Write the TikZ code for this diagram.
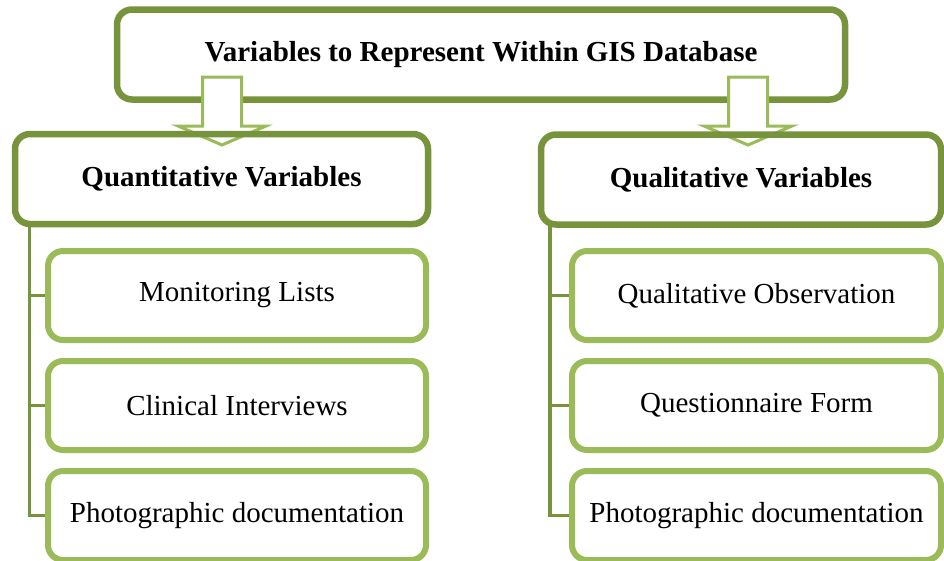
\documentclass[tikz,border=0pt]{standalone}
\usepackage{fontspec}
\setmainfont{Liberation Serif}
\usetikzlibrary{positioning}
\definecolor{olivedark}{HTML}{77933C}
\definecolor{olivelight}{HTML}{9BBB59}

\begin{document}
\begin{tikzpicture}[x=1pt, y=-1pt,
		font=\fontsize{29}{34}\selectfont,
		head/.style={draw=olivedark, line width=6.5pt, rounded corners=15pt, outer sep=0pt, minimum height=90pt},
		bold/.style={font=\fontsize{29}{34}\selectfont\bfseries},
		item/.style={draw=olivelight, line width=6pt, rounded corners=15pt, fill=white, outer sep=0pt, minimum height=89pt},
		link/.style={draw=olivedark, line width=3.5pt, shorten >=3pt},
		hollow/.style={draw=olivelight, line width=3pt, fill=white, line join=miter}]
		\path[use as bounding box, clip] (0,0) rectangle (944,560);
		\node[head, bold, minimum width=728pt] (title) at (481,54.5) {Variables to Represent Within GIS Database};
		\foreach \ax in {222,748}
		\draw[hollow] (\ax-19.5,77) -- ++(0,49) -- ++(-24.5,0) -- (\ax,145) -- (\ax+44,126) -- ++(-24.5,0) -- (\ax+19.5,77) -- cycle;
		\node[head, bold, minimum width=413pt] (quant) at (221.5,179) {Quantitative Variables};
		\node[head, bold, minimum width=400pt] (qual) at (741,179.5) {Qualitative Variables};
		% left column
		\node[item, minimum width=378pt] (mon) at (237,295.5) {Monitoring Lists};
		\node[item, minimum width=378pt, below=21pt of mon] (cli) {Clinical Interviews};
		\node[item, minimum width=378pt, below=21pt of cli] (photoA) {Photographic documentation};
		% right column
		\node[item, minimum width=369pt] (obs) at (756.5,295.5) {Qualitative Observation};
		\node[item, minimum width=369pt, below=21pt of obs] (form) {Questionnaire Form};
		\node[item, minimum width=369pt, below=21pt of form] (photoB) {Photographic documentation};
		\foreach \c in {mon,cli,photoA}
		\draw[link] ([xshift=14.5pt]quant.south west) |- (\c.west);
		\foreach \c in {obs,form,photoB}
		\draw[link] ([xshift=9pt]qual.south west) |- (\c.west);
	\end{tikzpicture}
\end{document}
